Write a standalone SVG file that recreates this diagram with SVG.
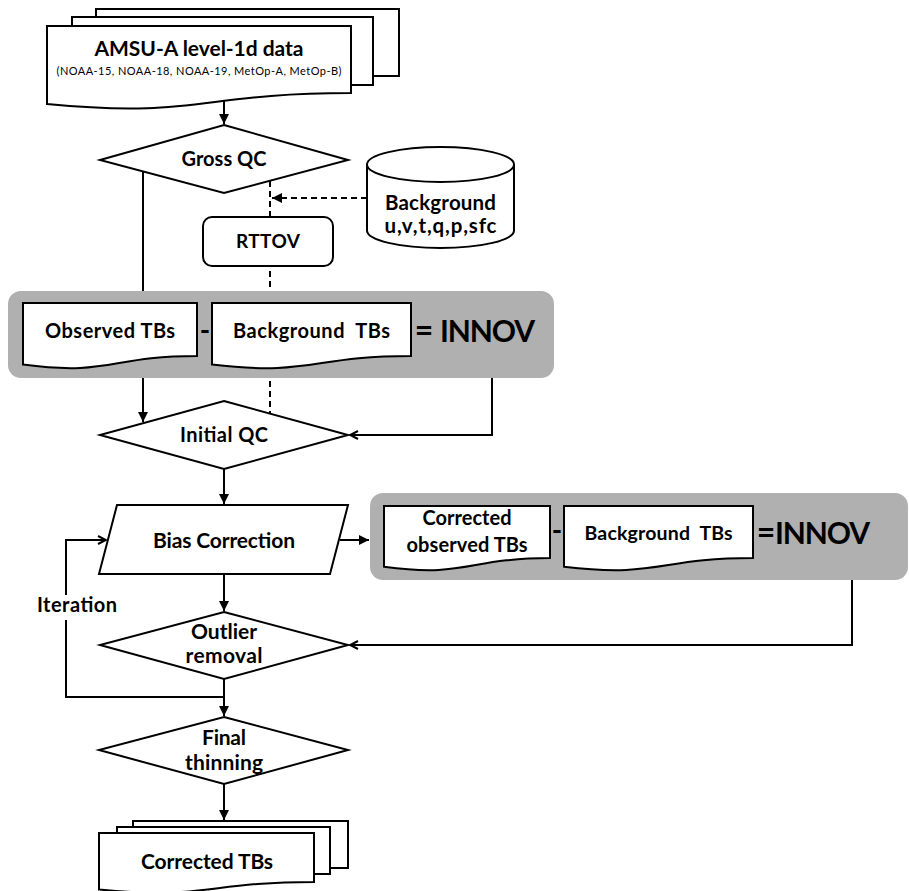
<svg xmlns="http://www.w3.org/2000/svg" width="909" height="891" viewBox="0 0 909 891">
<style>
.s{fill:#fff;stroke:#000;stroke-width:2;stroke-linejoin:miter}
.g{fill:#b0b0b0;stroke:none}
.c{fill:none;stroke:#000;stroke-width:2}
.d{fill:none;stroke:#000;stroke-width:2;stroke-dasharray:6,4}
.t{font-family:Lato,"Open Sans","Liberation Sans",sans-serif;font-weight:bold;fill:#000;text-anchor:middle}
</style>
<defs>
<marker id="fa" viewBox="0 0 10 10" refX="10" refY="5" markerWidth="5" markerHeight="5" orient="auto" markerUnits="strokeWidth">
<path d="M0,0 L10,5 L0,10 Z" fill="#000"/>
</marker>
<marker id="oa" viewBox="0 0 10 10" refX="9" refY="5" markerWidth="5" markerHeight="5" orient="auto" markerUnits="strokeWidth">
<path d="M1,1 L9,5 L1,9" fill="none" stroke="#000" stroke-width="2"/>
</marker>
</defs>

<g id="connectors">
<path class="c" d="M224,100 V124" marker-end="url(#fa)"/>
<path class="c" d="M143,172 V422" marker-end="url(#fa)"/>
<path class="d" d="M270,181 V413"/>
<path class="d" d="M367,198 H272" marker-end="url(#fa)"/>
<path class="c" d="M492,378 V435 H350" marker-end="url(#oa)"/>
<path class="c" d="M224,469 V504" marker-end="url(#fa)"/>
<path class="c" d="M340,540 H369" marker-end="url(#fa)"/>
<path class="c" d="M224,574 V611" marker-end="url(#fa)"/>
<path class="c" d="M852,580 V645 H350" marker-end="url(#oa)"/>
<path class="c" d="M224,679 V716" marker-end="url(#fa)"/>
<path class="c" d="M224,697 H66 V620"/>
<path class="c" d="M66,595 V540 H106" marker-end="url(#oa)"/>
<path class="c" d="M224,784 V820" marker-end="url(#fa)"/>
</g>

<g id="amsu">
<rect class="s" x="96" y="9" width="303" height="67"/>
<rect class="s" x="72" y="17" width="301" height="68"/>
<path class="s" d="M47,26 H351 V93 C199,93 199,118.5 47,104 Z"/>
<text class="t" x="199" y="56" font-size="21" textLength="209">AMSU-A level-1d data</text>
<text class="t" x="199" y="75" font-size="11" textLength="285" style="font-weight:normal">(NOAA-15, NOAA-18, NOAA-19, MetOp-A, MetOp-B)</text>
</g>

<g id="grossqc">
<polygon class="s" points="224,125 348,160 224,193 100,160"/>
<text class="t" x="224" y="166" font-size="20" textLength="85">Gross QC</text>
</g>

<g id="background">
<path class="s" d="M367,164.5 V230.5 A73.5,17.5 0 0 0 514,230.5 V164.5 A73.5,17.5 0 0 0 367,164.5 Z"/>
<path class="c" d="M367,164.5 A73.5,17.5 0 0 0 514,164.5"/>
<text class="t" x="440.5" y="210" font-size="20.5" textLength="111">Background</text>
<text class="t" x="440.5" y="233" font-size="20.5" textLength="112">u,v,t,q,p,sfc</text>
</g>

<g id="rttov">
<rect class="s" x="203" y="217" width="130" height="49" rx="9"/>
<text class="t" x="268" y="248" font-size="19" textLength="64">RTTOV</text>
</g>

<g id="innov1">
<rect class="g" x="8" y="291" width="546" height="87" rx="13"/>
<path class="s" d="M23,303 H197 V355.9 C110,355.9 110,376.1 23,364.6 Z"/>
<text class="t" x="110" y="338" font-size="20" textLength="130">Observed TBs</text>
<text class="t" x="205" y="340" font-size="28">-</text>
<path class="s" d="M212,303 H411 V355.9 C311.5,355.9 311.5,376.1 212,364.6 Z"/>
<text class="t" x="311.5" y="338" font-size="20" textLength="157" xml:space="preserve">Background  TBs</text>
<text class="t" x="424" y="342" font-size="32">=</text>
<text class="t" x="487.5" y="342" font-size="30" textLength="95">INNOV</text>
</g>

<g id="initialqc">
<polygon class="s" points="224,401 348,435 224,469 100,435"/>
<text class="t" x="224" y="442" font-size="20" textLength="88">Initial QC</text>
</g>

<g id="bias">
<polygon class="s" points="117,505 348,505 330,574 99,574"/>
<text class="t" x="224" y="548" font-size="21" textLength="142">Bias Correction</text>
</g>

<g id="innov2">
<rect class="g" x="370" y="493" width="538" height="87" rx="13"/>
<path class="s" d="M384,506 H550 V558.1 C467,558.1 467,578 384,566.7 Z"/>
<text class="t" x="467" y="525" font-size="20" textLength="89">Corrected</text>
<text class="t" x="467" y="552" font-size="20" textLength="121">observed TBs</text>
<text class="t" x="557" y="540" font-size="28">-</text>
<path class="s" d="M564,506 H753 V558.1 C658.5,558.1 658.5,578 564,566.7 Z"/>
<text class="t" x="658.5" y="540" font-size="19.5" textLength="148" xml:space="preserve">Background  TBs</text>
<text class="t" x="766" y="544" font-size="32">=</text>
<text class="t" x="822.5" y="544" font-size="30" textLength="95">INNOV</text>
</g>

<g id="iteration">
<text class="t" x="77" y="612" font-size="20" textLength="80">Iteration</text>
</g>

<g id="outlier">
<polygon class="s" points="224,612 348,645 224,679 100,645"/>
<text class="t" x="224" y="639" font-size="21" textLength="66">Outlier</text>
<text class="t" x="224" y="663" font-size="21" textLength="77">removal</text>
</g>

<g id="final">
<polygon class="s" points="224,717 348,750 224,784 99,750"/>
<text class="t" x="224" y="745" font-size="21" textLength="44">Final</text>
<text class="t" x="224" y="770" font-size="21" textLength="78">thinning</text>
</g>

<g id="corrected">
<rect class="s" x="133" y="821" width="215" height="47"/>
<rect class="s" x="117" y="827" width="213" height="47"/>
<path class="s" d="M99,833 H314 V881.9 C206.5,881.9 206.5,900 99,889.5 Z"/>
<text class="t" x="207" y="869" font-size="21" textLength="132">Corrected TBs</text>
</g>
</svg>
